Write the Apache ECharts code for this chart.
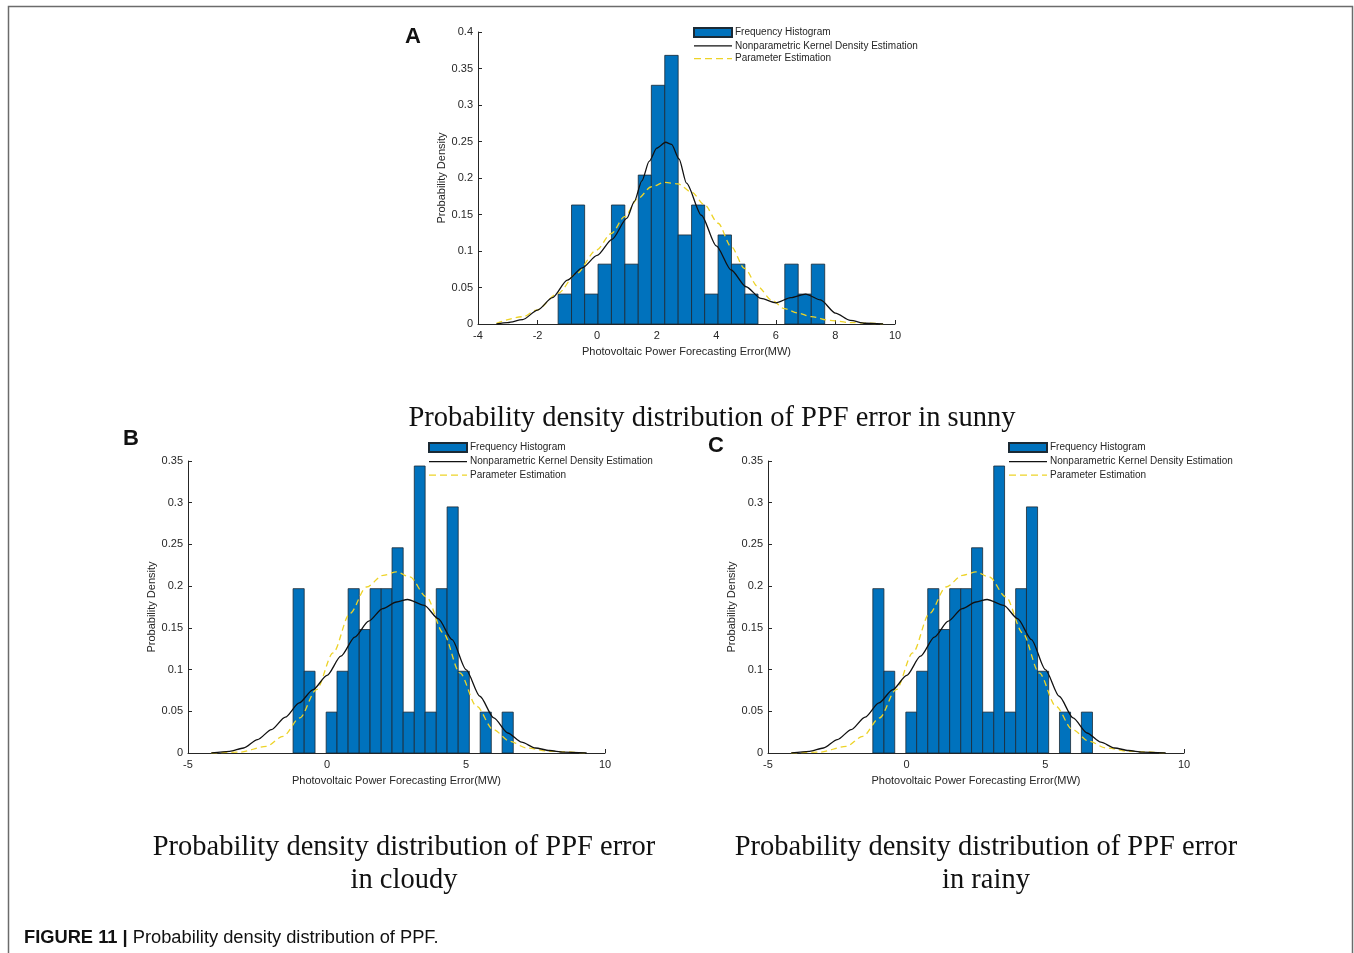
<!DOCTYPE html>
<html>
<head>
<meta charset="utf-8">
<title>Probability density distribution of PPF</title>
<script src="https://cdn.jsdelivr.net/npm/echarts@6/dist/echarts.min.js"></script>
<style>
  html, body { margin: 0; padding: 0; background: #fff; }
  #chart { width: 1354px; height: 953px; }
</style>
</head>
<body>
<div id="chart"></div>
<script>
// 数据：直方图边界 / 高度，核密度曲线，参数估计曲线
const sunnyEdges = [-1.31, -0.86, -0.42, 0.03, 0.48, 0.93, 1.38, 1.82, 2.27, 2.72, 3.17,
  3.61, 4.06, 4.51, 4.96, 5.40, 5.85, 6.30, 6.75, 7.19, 7.64];
const sunnyHeights = [0.041, 0.163, 0.041, 0.082, 0.163, 0.082, 0.204, 0.327, 0.368, 0.122,
  0.163, 0.041, 0.122, 0.082, 0.041, 0, 0, 0.082, 0.041, 0.082];
const sunnyKde = [[-3.38, 0], [-3, 0.002], [-2.5, 0.006], [-2, 0.019], [-1.5, 0.036],
  [-1, 0.06], [-0.5, 0.077], [0, 0.094], [0.5, 0.116], [1, 0.145], [1.25, 0.168],
  [1.5, 0.196], [1.75, 0.223], [2, 0.241], [2.3, 0.249], [2.5, 0.246], [2.75, 0.226],
  [3, 0.193], [3.5, 0.149], [4, 0.107], [4.5, 0.074], [5, 0.051], [5.5, 0.035],
  [6, 0.029], [6.5, 0.036], [7, 0.041], [7.5, 0.033], [8, 0.015], [8.5, 0.005],
  [9, 0.001], [9.6, 0]];
const sunnyParam = [[-3.38, 0.001], [-2.49, 0.01], [-2.04, 0.019], [-1.31, 0.042], [-0.7, 0.069],
  [-0.03, 0.101], [0.48, 0.124], [0.92, 0.147], [1.37, 0.172], [1.82, 0.188], [2.27, 0.194],
  [2.71, 0.192], [3.16, 0.181], [3.61, 0.163], [4.06, 0.138], [4.5, 0.106], [4.95, 0.076],
  [5.4, 0.051], [5.85, 0.033], [6.29, 0.021], [6.74, 0.015], [7.19, 0.01], [7.81, 0.005],
  [8.48, 0.002], [9.15, 0.001], [9.6, 0]];

const cloudyEdges = [-1.22, -0.82, -0.43, -0.03, 0.36, 0.76, 1.16, 1.55, 1.95, 2.34, 2.74,
  3.14, 3.53, 3.93, 4.32, 4.72, 5.12, 5.51, 5.91, 6.30, 6.70];
const cloudyHeights = [0.197, 0.098, 0, 0.049, 0.098, 0.197, 0.148, 0.197, 0.197, 0.246,
  0.049, 0.344, 0.049, 0.197, 0.295, 0.098, 0, 0.049, 0, 0.049];
const cloudyKde = [[-4.16, 0], [-3.5, 0.002], [-3, 0.006], [-2.5, 0.016], [-2, 0.028],
  [-1.5, 0.043], [-1, 0.06], [-0.5, 0.076], [0, 0.093], [0.5, 0.116], [1, 0.139],
  [1.5, 0.158], [2, 0.173], [2.5, 0.181], [2.9, 0.184], [3.5, 0.177], [4, 0.161],
  [4.5, 0.136], [5, 0.1], [5.5, 0.068], [6, 0.042], [6.5, 0.024], [7, 0.013],
  [7.5, 0.006], [8, 0.003], [8.5, 0.001], [9.34, 0]];
const cloudyParam = [[-4.16, 0], [-3.14, 0.001], [-2.18, 0.008], [-1.58, 0.02], [-0.98, 0.042],
  [-0.38, 0.076], [0.22, 0.12], [0.82, 0.167], [1.42, 0.199], [2.02, 0.213], [2.5, 0.217],
  [2.98, 0.211], [3.58, 0.187], [4.18, 0.144], [4.78, 0.096], [5.38, 0.056], [5.98, 0.028],
  [6.58, 0.014], [7.18, 0.006], [8.02, 0.002], [9.34, 0]];

// 雨天子图与阴天子图在原图中相同
const rainyEdges = cloudyEdges;
const rainyHeights = cloudyHeights;
const rainyKde = cloudyKde;
const rainyParam = cloudyParam;

const NAMES = ['Frequency Histogram', 'Nonparametric Kernel Density Estimation', 'Parameter Estimation'];
const AXIS_COLOR = '#262626';
const BAR_COLOR = '#0072BD';
const KDE_COLOR = '#111111';
const PARAM_COLOR = '#EDD328';
const SANS = 'Liberation Sans, Arial, sans-serif';
const SERIF = 'Liberation Serif, Times New Roman, serif';
// 图例图标：实线 / 虚线
const LINE_ICON = 'path://M0,0H38V1.3H0Z';
const DASH_ICON = 'path://M0,0H7V1.3H0Z M11,0H18V1.3H11Z M22,0H29V1.3H22Z M33,0H38V1.3H33Z';

const panels = [
  {edges: sunnyEdges, heights: sunnyHeights, kde: sunnyKde, param: sunnyParam,
    grid: {left: 478, top: 32, width: 417, height: 292},
    x: {min: -4, max: 10, interval: 2}, yMax: 0.4, legend: {left: 693, top: 27, gap: 2.8}},
  {edges: cloudyEdges, heights: cloudyHeights, kde: cloudyKde, param: cloudyParam,
    grid: {left: 188, top: 461, width: 417, height: 292},
    x: {min: -5, max: 10, interval: 5}, yMax: 0.35, legend: {left: 428, top: 442, gap: 3.6}},
  {edges: rainyEdges, heights: rainyHeights, kde: rainyKde, param: rainyParam,
    grid: {left: 768, top: 461, width: 416, height: 292},
    x: {min: -5, max: 10, interval: 5}, yMax: 0.35, legend: {left: 1008, top: 442, gap: 3.6}}
];

const renderBin = (params, api) => {
  const h = api.value(2);
  if (!h) {
    return null;
  }
  const lo = api.coord([api.value(0), 0]);
  const hi = api.coord([api.value(1), h]);
  return {
    type: 'rect',
    shape: {x: lo[0], y: hi[1], width: hi[0] - lo[0], height: lo[1] - hi[1]},
    style: {fill: BAR_COLOR, stroke: '#1b2a35', lineWidth: 0.8}
  };
};

const axisCommon = {
  axisLine: {show: true, onZero: false, lineStyle: {color: AXIS_COLOR, width: 1}},
  axisTick: {show: true, inside: true, length: 4, lineStyle: {color: AXIS_COLOR}},
  splitLine: {show: false},
  axisLabel: {color: AXIS_COLOR, fontSize: 11, fontFamily: SANS},
  nameTextStyle: {color: AXIS_COLOR, fontSize: 11, fontFamily: SANS}
};

const grids = [];
const xAxes = [];
const yAxes = [];
const legends = [];
const series = [];

panels.forEach((p, i) => {
  grids.push(Object.assign({containLabel: false}, p.grid));
  xAxes.push(Object.assign({}, axisCommon, {
    type: 'value', gridIndex: i, min: p.x.min, max: p.x.max, interval: p.x.interval,
    name: 'Photovoltaic Power Forecasting Error(MW)', nameLocation: 'middle', nameGap: 22,
    axisLabel: Object.assign({}, axisCommon.axisLabel, {margin: 6})
  }));
  yAxes.push(Object.assign({}, axisCommon, {
    type: 'value', gridIndex: i, min: 0, max: p.yMax, interval: 0.05,
    name: 'Probability Density', nameLocation: 'middle', nameGap: 30,
    axisLabel: Object.assign({}, axisCommon.axisLabel, {margin: 5})
  }));
  legends.push({
    orient: 'vertical', left: p.legend.left, top: p.legend.top, padding: 0,
    itemWidth: 38, itemHeight: 9, itemGap: p.legend.gap, selectedMode: false,
    symbolKeepAspect: true,
    textStyle: {color: AXIS_COLOR, fontSize: 10, fontFamily: SANS, padding: [0, 0, 0, -2]},
    data: [
      {name: NAMES[0], icon: 'rect'},
      {name: NAMES[1], icon: LINE_ICON, itemStyle: {color: KDE_COLOR, borderWidth: 0}},
      {name: NAMES[2], icon: DASH_ICON, itemStyle: {color: PARAM_COLOR, borderWidth: 0}}
    ]
  });

  const bins = p.heights.map((h, k) => [p.edges[k], p.edges[k + 1], h]);
  series.push({
    type: 'custom', name: NAMES[0], xAxisIndex: i, yAxisIndex: i,
    renderItem: renderBin, encode: {x: [0, 1], y: 2}, data: bins,
    itemStyle: {color: BAR_COLOR, borderColor: '#1b2a35', borderWidth: 0.8},
    silent: true, z: 1
  });
  series.push({
    type: 'line', name: NAMES[1], xAxisIndex: i, yAxisIndex: i, data: p.kde,
    symbol: 'none', smooth: 0.25, smoothMonotone: 'x',
    lineStyle: {color: KDE_COLOR, width: 1.3}, itemStyle: {color: KDE_COLOR},
    silent: true, z: 3
  });
  series.push({
    type: 'line', name: NAMES[2], xAxisIndex: i, yAxisIndex: i, data: p.param,
    symbol: 'none', smooth: 0.3, smoothMonotone: 'x',
    lineStyle: {color: PARAM_COLOR, width: 1.3, type: [6, 4]}, itemStyle: {color: PARAM_COLOR},
    silent: true, z: 2
  });
});

const captionStyle = {fill: '#111', font: '28.5px ' + SERIF, textAlign: 'center'};
const panelLabel = {fill: '#111', font: 'bold 22px ' + SANS, textAlign: 'center', textVerticalAlign: 'middle'};

const option = {
  backgroundColor: '#fff',
  animation: false,
  grid: grids,
  xAxis: xAxes,
  yAxis: yAxes,
  legend: legends,
  series: series,
  graphic: [
    // 外框（底部开口）
    {type: 'polyline', silent: true, shape: {points: [[8.5, 960], [8.5, 6.5], [1352.5, 6.5], [1352.5, 960]]},
      style: {stroke: '#6b6b6b', lineWidth: 1.5, fill: null}},
    {type: 'text', left: 405, top: 26, style: Object.assign({}, panelLabel, {text: 'A'})},
    {type: 'text', left: 123, top: 428, style: Object.assign({}, panelLabel, {text: 'B'})},
    {type: 'text', left: 708, top: 435, style: Object.assign({}, panelLabel, {text: 'C'})},
    {type: 'text', x: 712, y: 419, style: Object.assign({}, captionStyle,
      {text: 'Probability density distribution of PPF error in sunny', textVerticalAlign: 'middle'})},
    {type: 'text', x: 404, y: 831, style: Object.assign({}, captionStyle,
      {text: 'Probability density distribution of PPF error\nin cloudy', lineHeight: 33, textVerticalAlign: 'top'})},
    {type: 'text', x: 986, y: 831, style: Object.assign({}, captionStyle,
      {text: 'Probability density distribution of PPF error\nin rainy', lineHeight: 33, textVerticalAlign: 'top'})},
    {type: 'text', x: 24, y: 929, style: {
      text: '{b|FIGURE 11 |} Probability density distribution of PPF.',
      fill: '#111', font: '18.3px ' + SANS,
      rich: {b: {fontWeight: 'bold', fontSize: 18.3, fontFamily: SANS, fill: '#111'}}
    }}
  ]
};

const chart = echarts.init(document.getElementById('chart'), null, {renderer: 'canvas'});
chart.setOption(option);
</script>
</body>
</html>
